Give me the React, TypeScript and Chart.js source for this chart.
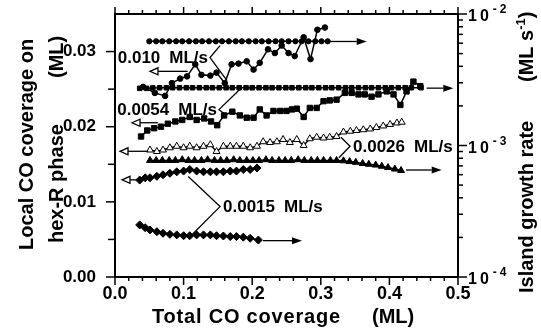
import React, { useEffect, useRef } from 'react';
import { Chart, registerables } from 'chart.js';

Chart.register(...registerables);

const FONT = "'Liberation Sans', Arial, Helvetica, sans-serif";

// ---------- axis ticks ----------
const xMajorTicks = [0, 0.1, 0.2, 0.3, 0.4, 0.5];
const xMinorTicks = [0.02, 0.04, 0.06, 0.08, 0.12, 0.14, 0.16, 0.18, 0.22, 0.24, 0.26, 0.28, 0.32, 0.34, 0.36, 0.38, 0.42, 0.44, 0.46, 0.48];
const yMajorTicks = [0, 0.01, 0.02, 0.03];
const yMinorTicks = [0.005, 0.015, 0.025];
const rMajorTicks = [1e-4, 1e-3, 1e-2];
const rMinorTicks = [2e-4, 3e-4, 4e-4, 5e-4, 6e-4, 7e-4, 8e-4, 9e-4, 2e-3, 3e-3, 4e-3, 5e-3, 6e-3, 7e-3, 8e-3, 9e-3];

// ---------- 0.010 ML/s ----------
const circleRateX = [0.050, 0.060, 0.069, 0.079, 0.089, 0.098, 0.108, 0.118, 0.127, 0.137, 0.147, 0.156, 0.166, 0.176, 0.185, 0.195, 0.205, 0.214, 0.224, 0.234, 0.243, 0.253, 0.263, 0.272, 0.282, 0.292, 0.301, 0.310];
const circleRateY = [0.0062, 0.0062, 0.0062, 0.0062, 0.0062, 0.0062, 0.0062, 0.0062, 0.0062, 0.0062, 0.0062, 0.0062, 0.0062, 0.0062, 0.0062, 0.0062, 0.0062, 0.0062, 0.0062, 0.0062, 0.0062, 0.0062, 0.0062, 0.0062, 0.0062, 0.0062, 0.0062, 0.0062];
const circleLocalX = [0.041, 0.058, 0.073, 0.083, 0.095, 0.105, 0.117, 0.126, 0.139, 0.148, 0.160, 0.170, 0.180, 0.192, 0.202, 0.211, 0.223, 0.233, 0.243, 0.253, 0.262, 0.275, 0.285, 0.295, 0.306];
const circleLocalY = [0.0253, 0.0245, 0.0241, 0.0258, 0.0264, 0.0267, 0.0283, 0.0269, 0.0268, 0.0272, 0.0258, 0.0283, 0.0284, 0.0287, 0.0276, 0.0285, 0.0303, 0.0298, 0.0308, 0.0298, 0.0294, 0.0319, 0.0290, 0.0329, 0.0332];

// ---------- 0.0054 ML/s ----------
const squareRateX = [0.036, 0.046, 0.055, 0.065, 0.075, 0.084, 0.094, 0.104, 0.113, 0.123, 0.133, 0.142, 0.152, 0.162, 0.171, 0.181, 0.191, 0.200, 0.210, 0.220, 0.229, 0.239, 0.249, 0.258, 0.268, 0.278, 0.287, 0.297, 0.307, 0.316, 0.326, 0.336, 0.345, 0.355, 0.365, 0.374, 0.384, 0.394, 0.403, 0.413, 0.423, 0.432, 0.446];
const squareRateY = [0.00272, 0.00272, 0.00274, 0.00275, 0.00275, 0.00275, 0.00275, 0.00275, 0.00275, 0.00275, 0.00275, 0.00275, 0.00275, 0.00275, 0.00275, 0.00275, 0.00275, 0.00275, 0.00275, 0.00275, 0.00275, 0.00275, 0.00275, 0.00275, 0.00275, 0.00275, 0.00275, 0.00275, 0.00275, 0.00275, 0.00275, 0.00275, 0.00275, 0.00275, 0.00275, 0.00275, 0.00275, 0.00275, 0.00275, 0.00275, 0.00275, 0.00275, 0.00275];
const squareLocalX = [0.038, 0.047, 0.057, 0.067, 0.077, 0.088, 0.098, 0.109, 0.119, 0.130, 0.140, 0.149, 0.159, 0.171, 0.182, 0.192, 0.202, 0.211, 0.221, 0.231, 0.241, 0.250, 0.258, 0.265, 0.275, 0.284, 0.294, 0.304, 0.313, 0.323, 0.335, 0.345, 0.355, 0.364, 0.374, 0.384, 0.396, 0.406, 0.416, 0.425, 0.435, 0.445];
const squareLocalY = [0.0187, 0.0195, 0.0198, 0.0200, 0.0204, 0.0207, 0.0209, 0.0213, 0.0209, 0.0211, 0.0207, 0.0202, 0.0215, 0.0220, 0.0215, 0.0212, 0.0212, 0.0223, 0.0215, 0.0221, 0.0221, 0.0221, 0.0223, 0.0224, 0.0213, 0.0225, 0.0225, 0.0234, 0.0235, 0.0236, 0.0245, 0.0245, 0.0243, 0.0243, 0.0240, 0.0243, 0.0247, 0.0243, 0.0229, 0.0247, 0.0260, 0.0254];

// ---------- 0.0026 ML/s ----------
const triOpenX = [0.051, 0.061, 0.070, 0.080, 0.090, 0.100, 0.109, 0.119, 0.129, 0.139, 0.148, 0.158, 0.168, 0.177, 0.187, 0.197, 0.207, 0.216, 0.226, 0.236, 0.245, 0.255, 0.265, 0.275, 0.284, 0.294, 0.304, 0.313, 0.323, 0.333, 0.343, 0.352, 0.362, 0.372, 0.381, 0.391, 0.401, 0.411, 0.418];
const triOpenY = [0.0169, 0.0167, 0.0169, 0.0172, 0.0174, 0.0172, 0.0174, 0.0172, 0.0174, 0.0176, 0.0167, 0.0174, 0.0174, 0.0174, 0.0174, 0.0172, 0.0174, 0.0180, 0.0179, 0.0180, 0.0183, 0.0179, 0.0183, 0.0175, 0.0184, 0.0186, 0.0185, 0.0186, 0.0187, 0.0193, 0.0194, 0.0195, 0.0196, 0.0197, 0.0199, 0.0201, 0.0203, 0.0205, 0.0206];
const triFillX = [0.051, 0.060, 0.069, 0.079, 0.088, 0.098, 0.107, 0.116, 0.126, 0.135, 0.145, 0.154, 0.163, 0.173, 0.182, 0.192, 0.201, 0.210, 0.220, 0.229, 0.239, 0.248, 0.257, 0.267, 0.276, 0.286, 0.295, 0.304, 0.314, 0.323, 0.333, 0.342, 0.351, 0.361, 0.370, 0.380, 0.389, 0.398, 0.408, 0.417];
const triFillY = [0.00077, 0.00077, 0.00077, 0.00077, 0.00077, 0.00078, 0.00077, 0.00077, 0.00077, 0.00078, 0.00077, 0.00077, 0.00077, 0.00078, 0.00077, 0.00077, 0.00077, 0.00077, 0.00078, 0.00077, 0.00077, 0.00077, 0.00077, 0.00078, 0.00077, 0.00077, 0.00077, 0.00077, 0.00077, 0.00077, 0.000765, 0.000755, 0.000745, 0.00073, 0.00072, 0.00071, 0.000695, 0.00068, 0.000662, 0.000645];

// ---------- 0.0015 ML/s ----------
const diamondLocalX = [0.036, 0.044, 0.051, 0.061, 0.070, 0.080, 0.090, 0.100, 0.109, 0.119, 0.129, 0.139, 0.148, 0.158, 0.168, 0.177, 0.187, 0.197, 0.207];
const diamondLocalY = [0.0129, 0.0132, 0.0132, 0.0134, 0.0136, 0.0138, 0.0140, 0.0141, 0.0143, 0.0141, 0.0140, 0.0140, 0.0140, 0.0140, 0.0141, 0.0141, 0.0143, 0.0143, 0.0145];
const diamondRateX = [0.036, 0.044, 0.051, 0.061, 0.070, 0.080, 0.090, 0.100, 0.109, 0.119, 0.129, 0.139, 0.148, 0.158, 0.168, 0.177, 0.187, 0.197, 0.209];
const diamondRateY = [0.000249, 0.000237, 0.000228, 0.000221, 0.000215, 0.000211, 0.000209, 0.000206, 0.000206, 0.000209, 0.000209, 0.000209, 0.000206, 0.000205, 0.000203, 0.000203, 0.000201, 0.000197, 0.000191];

// ---------- annotations (data coordinates, left axis) ----------
const labelNumbers = ['0.010', '0.0054', '0.0026', '0.0015'];
const labelUnit = 'ML/s';
const labelSide = ['left', 'left', 'right', 'right'];
const bracketVertexX = [0.1385, 0.1516, 0.3426, 0.1531];
const bracketVertexY = [0.0292, 0.02227, 0.0174, 0.00937];
const bracketUpperX = [0.1531, 0.1837, 0.3294, 0.1068];
const bracketUpperY = [0.0308, 0.02513, 0.0186, 0.01337];
const bracketLowerX = [0.1633, 0.1633, 0.3265, 0.1118];
const bracketLowerY = [0.02613, 0.02147, 0.01587, 0.0056];

// arrows: tail x, tip x, y value, axis
const arrowTailX = [0.106, 0.3134, 0.0627, 0.4544, 0.048, 0.4242, 0.0335, 0.2157];
const arrowTipX = [0.051, 0.3669, 0.0248, 0.4932, 0.0073, 0.4762, 0.0102, 0.2726];
const arrowY = [0.02737, 0.00618, 0.02053, 0.00273, 0.01673, 0.000651, 0.01293, 0.000189];
const arrowAxis = ['y', 'yR', 'y', 'yR', 'y', 'yR', 'y', 'yR'];

const pts = (xs: number[], ys: number[]) => xs.map((x, i) => ({ x, y: ys[i] }));

const decorPlugin = {
  id: 'decor',
  afterDatasetsDraw(chart: any) {
    const { ctx, scales } = chart;
    const sx = scales.x, sy = scales.y, sr = scales.yR;
    ctx.save();
    ctx.strokeStyle = '#000';
    ctx.fillStyle = '#000';
    ctx.lineWidth = 1.3;
    ctx.font = `bold 17px ${FONT}`;
    ctx.textBaseline = 'middle';
    labelNumbers.forEach((num, i) => {
      const vx = sx.getPixelForValue(bracketVertexX[i]);
      const vy = sy.getPixelForValue(bracketVertexY[i]);
      ctx.beginPath();
      ctx.moveTo(sx.getPixelForValue(bracketUpperX[i]), sy.getPixelForValue(bracketUpperY[i]));
      ctx.lineTo(vx, vy);
      ctx.lineTo(sx.getPixelForValue(bracketLowerX[i]), sy.getPixelForValue(bracketLowerY[i]));
      ctx.stroke();
      const uw = ctx.measureText(labelUnit).width;
      const nw = ctx.measureText(num).width;
      const gap = 9;
      ctx.textAlign = 'left';
      if (labelSide[i] === 'left') {
        const end = vx - 2;
        ctx.fillText(labelUnit, end - uw, vy + 1);
        ctx.fillText(num, end - uw - gap - nw, vy + 1);
      } else {
        const start = vx + 3;
        ctx.fillText(num, start, vy + 1);
        ctx.fillText(labelUnit, start + nw + gap, vy + 1);
      }
    });
    arrowTipX.forEach((tx, i) => {
      const sc = arrowAxis[i] === 'y' ? sy : sr;
      const py = sc.getPixelForValue(arrowY[i]);
      const tip = sx.getPixelForValue(tx);
      const tail = sx.getPixelForValue(arrowTailX[i]);
      ctx.lineWidth = 1.3;
      if (tip < tail) {
        const hl = 8;
        ctx.beginPath();
        ctx.moveTo(tail, py);
        ctx.lineTo(tip + hl, py);
        ctx.stroke();
        ctx.beginPath();
        ctx.moveTo(tip, py);
        ctx.lineTo(tip + hl, py - 3.5);
        ctx.lineTo(tip + hl, py + 3.5);
        ctx.closePath();
        ctx.fillStyle = '#fff';
        ctx.fill();
        ctx.stroke();
        ctx.fillStyle = '#000';
      } else {
        const hl = 10;
        ctx.beginPath();
        ctx.moveTo(tail, py);
        ctx.lineTo(tip - hl, py);
        ctx.stroke();
        ctx.beginPath();
        ctx.moveTo(tip, py);
        ctx.lineTo(tip - hl, py - 3.5);
        ctx.lineTo(tip - hl, py + 3.5);
        ctx.closePath();
        ctx.fill();
      }
    });
    ctx.restore();
  },
  afterDraw(chart: any) {
    const { ctx, chartArea: a, scales } = chart;
    const sx = scales.x, sy = scales.y, sr = scales.yR;
    ctx.save();
    ctx.strokeStyle = '#000';
    ctx.fillStyle = '#000';
    ctx.lineWidth = 2;
    ctx.strokeRect(a.left, a.top, a.right - a.left, a.bottom - a.top);
    ctx.lineWidth = 1.5;
    const line = (x1: number, y1: number, x2: number, y2: number) => {
      ctx.beginPath();
      ctx.moveTo(x1, y1);
      ctx.lineTo(x2, y2);
      ctx.stroke();
    };
    xMajorTicks.forEach((v) => {
      const p = sx.getPixelForValue(v);
      line(p, a.bottom, p, a.bottom + 8);
      line(p, a.top, p, a.top - 7);
    });
    xMinorTicks.forEach((v) => {
      const p = sx.getPixelForValue(v);
      line(p, a.bottom, p, a.bottom + 4);
      line(p, a.top, p, a.top - 4);
    });
    yMajorTicks.forEach((v) => {
      const p = sy.getPixelForValue(v);
      line(a.left - 9, p, a.left, p);
    });
    yMinorTicks.forEach((v) => {
      const p = sy.getPixelForValue(v);
      line(a.left - 7, p, a.left, p);
    });
    rMajorTicks.forEach((v) => {
      const p = sr.getPixelForValue(v);
      line(a.right, p, a.right + 9, p);
    });
    rMinorTicks.forEach((v) => {
      const p = sr.getPixelForValue(v);
      line(a.right, p, a.right + 5, p);
    });
    ctx.textAlign = 'left';
    ctx.textBaseline = 'middle';
    rMajorTicks.forEach((v) => {
      const p = sr.getPixelForValue(v);
      const e = Math.round(Math.log10(v));
      ctx.font = `bold 16px ${FONT}`;
      (ctx as any).letterSpacing = '3px';
      const x0 = a.right + 10;
      ctx.fillText('10', x0, p + 3);
      const w = ctx.measureText('10').width;
      ctx.font = `bold 12px ${FONT}`;
      (ctx as any).letterSpacing = '3px';
      ctx.fillText(`-${-e}`, x0 + w + 1, p - 4);
    });
    ctx.font = `bold 20px ${FONT}`;
    ctx.textBaseline = 'alphabetic';
    (ctx as any).letterSpacing = '0.8px';
    ctx.fillText('Total CO coverage', 152, 323);
    (ctx as any).letterSpacing = '0px';
    ctx.fillText('(ML)', 372, 323);
    const vtext = (parts: { t: string; size: number; dy?: number }[], bx: number, by: number) => {
      ctx.save();
      ctx.translate(bx, by);
      ctx.rotate(-Math.PI / 2);
      let x = 0;
      parts.forEach((pt) => {
        ctx.font = `bold ${pt.size}px ${FONT}`;
        ctx.fillText(pt.t, x, pt.dy || 0);
        x += ctx.measureText(pt.t).width;
      });
      ctx.restore();
    };
    vtext([{ t: 'Local CO coverage on', size: 20 }], 33, 250);
    vtext([{ t: 'hex-R phase', size: 20 }], 63, 243);
    vtext([{ t: '(ML)', size: 20 }], 63, 78);
    vtext([{ t: 'Island growth rate', size: 20 }], 533, 293);
    vtext([{ t: '(ML s', size: 20 }, { t: '-1', size: 13, dy: -8 }, { t: ')', size: 20 }], 533, 82);
    ctx.restore();
  },
};

export default function App() {
  const ref = useRef<HTMLCanvasElement>(null);
  useEffect(() => {
    if (!ref.current) return;
    const base = { borderColor: '#000', backgroundColor: '#000', borderWidth: 1.5, pointBorderColor: '#000', pointBackgroundColor: '#000', pointBorderWidth: 1, tension: 0 };
    const chart = new Chart(ref.current, {
      type: 'line',
      data: {
        datasets: [
          { ...base, label: '0.010 rate', data: pts(circleRateX, circleRateY), yAxisID: 'yR', pointStyle: 'circle', pointRadius: 2.6 },
          { ...base, label: '0.010 local', data: pts(circleLocalX, circleLocalY), yAxisID: 'y', pointStyle: 'circle', pointRadius: 2.8 },
          { ...base, label: '0.0054 rate', data: pts(squareRateX, squareRateY), yAxisID: 'yR', pointStyle: 'rect', pointRadius: 3.2 },
          { ...base, label: '0.0054 local', data: pts(squareLocalX, squareLocalY), yAxisID: 'y', pointStyle: 'rect', pointRadius: 3.8 },
          { ...base, label: '0.0026 local', data: pts(triOpenX, triOpenY), yAxisID: 'y', pointStyle: 'triangle', pointRadius: 4, pointBackgroundColor: '#fff' },
          { ...base, label: '0.0026 rate', data: pts(triFillX, triFillY), yAxisID: 'yR', pointStyle: 'triangle', pointRadius: 4 },
          { ...base, label: '0.0015 local', data: pts(diamondLocalX, diamondLocalY), yAxisID: 'y', pointStyle: 'rectRot', pointRadius: 4 },
          { ...base, label: '0.0015 rate', data: pts(diamondRateX, diamondRateY), yAxisID: 'yR', pointStyle: 'rectRot', pointRadius: 4 },
        ],
      },
      options: {
        animation: false,
        responsive: false,
        events: [],
        layout: { padding: { top: 14, left: 0, right: 0, bottom: 0 } },
        plugins: { legend: { display: false }, tooltip: { enabled: false } },
        scales: {
          x: {
            type: 'linear',
            position: 'bottom',
            min: 0,
            max: 0.5,
            grid: { display: false },
            border: { display: false },
            afterBuildTicks: (s: any) => {
              s.ticks = xMajorTicks.map((v) => ({ value: v }));
            },
            ticks: { color: '#000', font: { family: FONT, size: 18, weight: 'bold' }, padding: -2, maxRotation: 0, autoSkip: false, callback: (v: any) => Number(v).toFixed(1) },
            afterFit: (s: any) => {
              s.height = 56;
              s.paddingLeft = 0;
              s.paddingRight = 0;
            },
          },
          y: {
            type: 'linear',
            position: 'left',
            min: 0,
            max: 0.035,
            grid: { display: false },
            border: { display: false },
            afterBuildTicks: (s: any) => {
              s.ticks = yMajorTicks.map((v) => ({ value: v }));
            },
            ticks: { color: '#000', font: { family: FONT, size: 17, weight: 'bold' }, padding: 11, autoSkip: false, callback: (v: any) => Number(v).toFixed(2) },
            afterFit: (s: any) => {
              s.width = 115;
              s.paddingTop = 0;
              s.paddingBottom = 0;
            },
          },
          yR: {
            type: 'logarithmic',
            position: 'right',
            min: 1e-4,
            max: 1e-2,
            grid: { display: false },
            border: { display: false },
            ticks: { display: false },
            afterFit: (s: any) => {
              s.width = 83;
              s.paddingTop = 0;
              s.paddingBottom = 0;
            },
          },
        },
      },
      plugins: [decorPlugin],
    });
    return () => chart.destroy();
  }, []);
  return (
    <div style={{ position: 'fixed', left: 0, top: 0, width: 541, height: 333, background: '#fff' }}>
      <canvas ref={ref} width={541} height={333} style={{ display: 'block', width: 541, height: 333 }} />
    </div>
  );
}
